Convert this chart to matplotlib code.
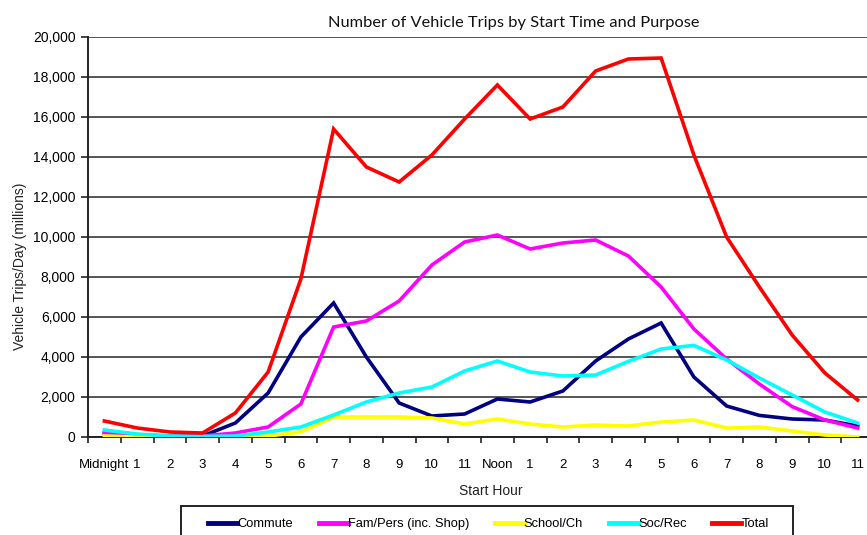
import matplotlib
matplotlib.use("Agg")
import matplotlib.pyplot as plt
from matplotlib.ticker import FuncFormatter
from matplotlib.patches import Rectangle

hours = ["Midnight", "1", "2", "3", "4", "5", "6", "7", "8", "9", "10", "11",
         "Noon", "1", "2", "3", "4", "5", "6", "7", "8", "9", "10", "11"]

commute = [200, 100, 50, 50, 700, 2200, 5000, 6700, 4000, 1700, 1050, 1150,
           1900, 1750, 2300, 3800, 4900, 5700, 3000, 1550, 1080, 900, 850, 550]
fam_pers = [200, 100, 50, 50, 200, 500, 1650, 5500, 5800, 6800, 8600, 9750,
            10100, 9400, 9700, 9850, 9050, 7500, 5400, 3900, 2650, 1520, 850, 450]
school = [50, 0, 0, 0, 0, 50, 250, 1000, 1000, 1000, 950, 650,
          900, 650, 500, 600, 550, 750, 850, 450, 500, 300, 100, 0]
soc_rec = [350, 150, 50, 30, 50, 250, 500, 1100, 1750, 2200, 2500, 3300,
           3800, 3250, 3050, 3100, 3780, 4400, 4580, 3850, 2950, 2100, 1250, 700]
total = [800, 450, 250, 200, 1200, 3250, 7900, 15400, 13500, 12750, 14100, 15900,
         17600, 15900, 16500, 18300, 18900, 18950, 14100, 10000, 7500, 5100, 3200, 1850]

series = [
    ("Commute", commute, "#000080"),
    ("Fam/Pers (inc. Shop)", fam_pers, "#FF00FF"),
    ("School/Ch", school, "#FFFF00"),
    ("Soc/Rec", soc_rec, "#00FFFF"),
    ("Total", total, "#FF0000"),
]

FONT = ["Liberation Sans Narrow", "Liberation Sans", "DejaVu Sans"]
plt.rcParams["font.family"] = FONT

W, H = 867, 535
fig = plt.figure(figsize=(W / 100, H / 100), dpi=100)
ax = fig.add_axes([88 / W, (H - 437) / H, (874 - 88) / W, (437 - 37) / H])

x = list(range(len(hours)))
for name, vals, col in series:
    ax.plot(x, vals, color=col, lw=2.6, label=name, solid_joinstyle="miter", zorder=3)

ax.set_xlim(-0.5, len(hours) - 0.5)
ax.set_ylim(0, 20000)
ax.set_yticks(range(0, 20001, 2000))
ax.yaxis.set_major_formatter(FuncFormatter(lambda v, p: f"{int(v):,}"))
ax.set_xticks(x)
ax.set_xticklabels(hours)
ax.set_xticks([i - 0.5 for i in range(len(hours) + 1)], minor=True)
ax.tick_params(axis="x", which="major", length=0, pad=16, labelsize=9.5)
ax.tick_params(axis="x", which="minor", length=4, width=1.2, color="#222222")
ax.tick_params(axis="y", which="major", length=5, width=1.2, color="#222222", labelsize=10, pad=4)

ax.grid(axis="y", color="#555555", lw=1.4, zorder=1)
for s in ["top", "right"]:
    ax.spines[s].set_visible(False)
ax.spines["left"].set_color("#222222")
ax.spines["left"].set_linewidth(1.4)
ax.spines["bottom"].set_color("#222222")
ax.spines["bottom"].set_linewidth(1.4)

fig.text(514 / W, 1 - 23 / H, "Number of Vehicle Trips by Start Time and Purpose",
         ha="center", va="center", fontsize=11.8, family=["Lato", "DejaVu Sans"],
         color="#111111")
fig.text(20 / W, 1 - 266 / H, "Vehicle Trips/Day (millions)", rotation=90,
         ha="center", va="center", fontsize=10, color="#222222")
fig.text(491 / W, 1 - 491 / H, "Start Hour", ha="center", va="center",
         fontsize=10, color="#222222")

leg = fig.legend(loc="center left", bbox_to_anchor=(208 / W, 1 - 524 / H), ncol=5,
                 frameon=False, fontsize=9.3,
                 handlelength=2.25, handletextpad=0.0, columnspacing=2.0,
                 borderpad=0, borderaxespad=0)
for line in leg.get_lines():
    line.set_linewidth(3.5)

fig.patches.append(Rectangle((181 / W, -20 / H), (793 - 181) / W, (535 - 506 + 20) / H,
                             transform=fig.transFigure, fill=False,
                             edgecolor="#222222", lw=1.4))

fig.savefig("out.png", dpi=100)
